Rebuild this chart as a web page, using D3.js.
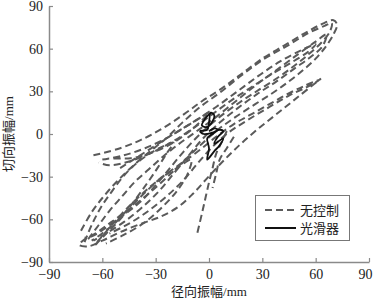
<!DOCTYPE html>
<html><head><meta charset="utf-8">
<script src="https://cdn.jsdelivr.net/npm/d3@7"></script>
<style>body{margin:0;background:#fff}</style>
</head><body>
<script>
const xTicks = [-90,-60,-30,0,30,60,90];
const yTicks = [-90,-60,-30,0,30,60,90];
const xLabel = "径向振幅/mm";
const yLabel = "切向振幅/mm";
const seriesNames = ["无控制","光滑器"];

// 无控制 (uncontrolled) orbit, read as several loops [x, y]
const orbitA = [[-65,-15],[-50,-10],[-38,-4],[-26,4],[-14,14],[-4,23],[6,31],[18,42],[30,53],[42,62],[54,71],[63,77],[70,80],[72,77],[70,70],[66,62],[60,53],[53,45],[45,37],[36,29],[26,21],[15,12],[5,3],[-5,-8],[-15,-20],[-25,-32],[-35,-43],[-45,-53],[-55,-62],[-64,-70],[-71,-75],[-73,-78],[-68,-79],[-60,-75],[-50,-69],[-38,-63],[-27,-58],[-17,-51],[-9,-42],[-1,-31],[8,-19],[17,-8],[27,3],[38,14],[50,26],[63,39]];
const orbitB = [[-72,-68],[-66,-55],[-60,-45],[-53,-35],[-45,-25],[-35,-14],[-25,-4],[-15,8],[-5,19],[6,29],[18,41],[30,52],[44,62],[56,71],[65,76],[69,78],[68,72],[63,64],[56,56],[48,48],[38,39],[28,31],[17,22],[6,12],[-5,0],[-14,-12],[-22,-24],[-30,-36],[-38,-47],[-48,-57],[-58,-66],[-66,-72],[-70,-73]];
const orbitC = [[-68,-74],[-62,-64],[-56,-54],[-49,-44],[-42,-34],[-34,-25],[-26,-16],[-18,-8],[-8,1],[2,10],[14,22],[26,34],[38,45],[50,56],[60,65],[66,70],[64,62],[57,54],[48,46],[38,37],[27,28],[16,18],[6,8],[-4,-4],[-12,-16],[-20,-28],[-28,-40],[-38,-52],[-48,-62],[-58,-70],[-65,-75]];
const orbitD = [[-63,-76],[-56,-66],[-49,-56],[-41,-46],[-33,-37],[-25,-29],[-16,-21],[-6,-12],[4,-2],[14,7],[24,14],[34,21],[44,28],[54,34],[62,38],[55,33],[45,27],[34,19],[22,10],[11,1],[2,-9],[-6,-20],[-14,-32],[-24,-44],[-34,-54],[-45,-63],[-56,-70]];
const orbitE = [[-50,-24],[-40,-16],[-30,-8],[-20,0],[-8,9],[4,19],[16,30],[28,41],[40,51],[52,59],[60,63],[56,58],[46,50],[35,42],[24,33],[13,24],[2,14],[-9,4],[-20,-5],[-32,-13],[-44,-19],[-56,-22],[-62,-20]];
const orbitF = [[10,2],[7,-6],[4,-14],[2,-24],[0,-34],[-2,-45],[-4,-56],[-7,-72]];
const orbitG = [[14,-2],[10,-10],[6,-18],[4,-28],[2,-38]];
const orbitH = [[-70,-76],[-66,-64],[-61,-52],[-55,-41],[-49,-31],[-43,-23],[-36,-16],[-28,-10],[-20,-6],[-24,-14],[-29,-24],[-35,-35],[-42,-47],[-50,-59],[-58,-68],[-66,-75]];
const orbitI = [[-64,-78],[-57,-69],[-50,-60],[-43,-50],[-35,-40],[-27,-31],[-18,-24],[-10,-18],[-12,-28],[-18,-40],[-26,-51],[-36,-62],[-48,-71],[-58,-77]];
const orbitJ = [[-60,-18],[-48,-15],[-36,-10],[-24,-3],[-12,6],[0,15],[-8,5],[-20,-6],[-32,-13],[-44,-17],[-56,-17]];
const dashedLoops = [orbitA, orbitB, orbitC, orbitD, orbitE, orbitF, orbitG, orbitH, orbitI, orbitJ];

// 光滑器 (smoothed) orbit
const smooth = [[1,15],[-2,11],[-4,6],[-1,5],[2,9],[3,13],[1,15],[0,8],[-1,3],[-5,2],[-3,0],[2,1],[6,3],[8,2],[5,-2],[3,-7],[8,-3],[6,-8],[3,-12],[-1,-18],[0,-10],[-1,-3],[2,0],[5,3],[3,4],[0,2]];

const W = 374, H = 300;
const svg = d3.select("body").append("svg").attr("width", W).attr("height", H);
const x = d3.scaleLinear().domain([-90,90]).range([49,369]);
const y = d3.scaleLinear().domain([-90,90]).range([262,6]);
const axisColor = "#8a8a8a";
const numFont = "'Liberation Serif','Times New Roman',serif";
const cjkFont = "'Liberation Serif','Noto Sans CJK SC',serif";

const line = d3.line().x(d => x(d[0])).y(d => y(d[1])).curve(d3.curveCatmullRom.alpha(0.5));

svg.append("g").selectAll("path").data(dashedLoops).join("path")
  .attr("d", line).attr("fill","none").attr("stroke","#5a5a5a")
  .attr("stroke-width",2).attr("stroke-dasharray","7,4");

svg.append("path").datum(smooth).attr("d", line).attr("fill","none")
  .attr("stroke","#111").attr("stroke-width",1.8);

const gx = svg.append("g").attr("transform",`translate(0,${y(-90)})`)
  .call(d3.axisBottom(x).tickValues(xTicks).tickSize(-4).tickPadding(7).tickSizeOuter(0));
const gy = svg.append("g").attr("transform",`translate(${x(-90)},0)`)
  .call(d3.axisLeft(y).tickValues(yTicks).tickSize(-4).tickPadding(6).tickSizeOuter(0));
[gx, gy].forEach(g => {
  g.select(".domain").attr("stroke", axisColor).attr("stroke-width",1.5);
  g.selectAll(".tick line").attr("stroke", axisColor).attr("stroke-width",1.2);
  g.selectAll(".tick text").attr("fill","#222").attr("font-family", numFont).attr("font-size",14);
});
gx.selectAll(".tick text").filter(d => d === 90).attr("dx", -4);

svg.append("text").attr("x", x(0)).attr("y", 296).attr("text-anchor","middle")
  .attr("font-family", cjkFont).attr("font-size",13).attr("fill","#222").text(xLabel);
svg.append("text").attr("transform",`translate(13,${y(0)}) rotate(-90)`).attr("text-anchor","middle")
  .attr("font-family", cjkFont).attr("font-size",13).attr("fill","#222").text(yLabel);

// legend
const lg = svg.append("g");
lg.append("rect").attr("x",255.5).attr("y",195.5).attr("width",94).attr("height",45)
  .attr("fill","#fff").attr("stroke","#777").attr("stroke-width",1);
const items = [{name: seriesNames[0], dash:"7,4", color:"#5a5a5a", yy:210},
               {name: seriesNames[1], dash:null, color:"#111", yy:228}];
items.forEach(it => {
  lg.append("line").attr("x1",265).attr("x2",296).attr("y1",it.yy).attr("y2",it.yy)
    .attr("stroke",it.color).attr("stroke-width",2).attr("stroke-dasharray",it.dash);
  lg.append("text").attr("x",300).attr("y",it.yy+5).attr("font-family",cjkFont)
    .attr("font-size",13).attr("fill","#222").text(it.name);
});
</script>
</body></html>
